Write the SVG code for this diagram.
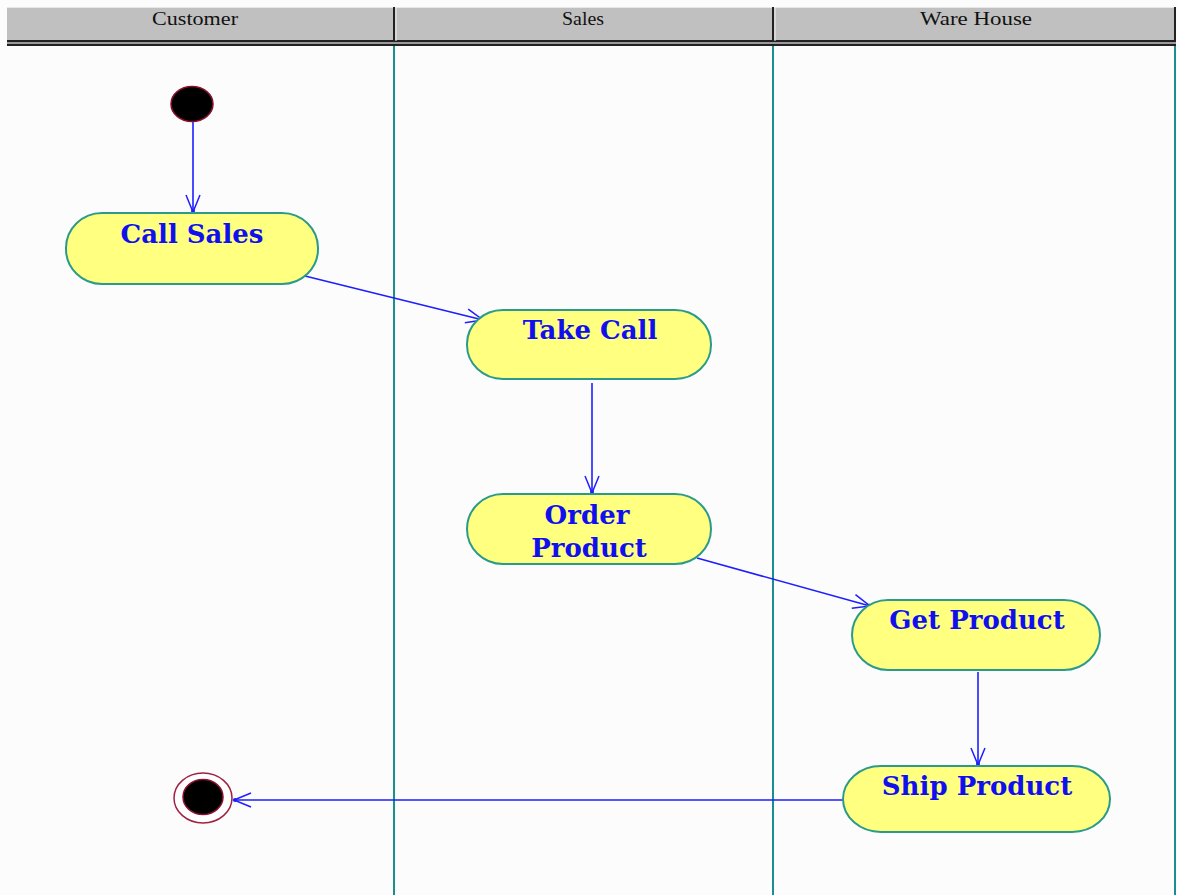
<svg xmlns="http://www.w3.org/2000/svg" width="1177" height="895" viewBox="0 0 1177 895">
  <style>
    .hdr { fill: #c0c0c0; }
    .hdr-text { font-family: "Liberation Serif", "DejaVu Serif", serif; font-size: 18px; fill: #111; text-anchor: middle; }
    .lane { stroke: #1a8f8f; stroke-width: 2; fill: none; }
    .act { fill: #ffff80; stroke: #2a9a8a; stroke-width: 2; }
    .label { font-family: "DejaVu Serif", "Liberation Serif", serif; font-weight: bold; font-size: 26px; fill: #1010ee; text-anchor: middle; }
    .flow { stroke: #1e1eff; stroke-width: 1.6; fill: none; marker-end: url(#open); }
  </style>
  <defs>
    <marker id="open" viewBox="-20 -10 22 20" refX="0" refY="0" markerWidth="22" markerHeight="20" markerUnits="userSpaceOnUse" orient="auto">
      <path d="M -17 -7 L 0 0 L -17 7" fill="none" stroke="#1e1eff" stroke-width="1.5"/>
      <circle cx="-1" cy="0" r="2" fill="#1e1eff"/>
    </marker>
  </defs>

  <rect x="0" y="0" width="1177" height="895" fill="#fcfcfc"/>

  <!-- swimlane header bar -->
  <g id="header">
    <rect class="hdr" x="7" y="7" width="1169" height="34"/>
    <line x1="7" y1="7.5" x2="1176" y2="7.5" stroke="#e8e8e8" stroke-width="1"/>
    <line x1="7" y1="41" x2="1176" y2="41" stroke="#222" stroke-width="2"/>
    <line x1="7" y1="43" x2="1176" y2="43" stroke="#9a9a9a" stroke-width="2"/>
    <line x1="7" y1="45" x2="1176" y2="45" stroke="#222" stroke-width="2"/>
    <line x1="394" y1="7" x2="394" y2="41" stroke="#222" stroke-width="2"/>
    <line x1="396" y1="7" x2="396" y2="41" stroke="#eeeeee" stroke-width="1"/>
    <line x1="773" y1="7" x2="773" y2="41" stroke="#222" stroke-width="2"/>
    <line x1="775" y1="7" x2="775" y2="41" stroke="#eeeeee" stroke-width="1"/>
    <line x1="1175" y1="7" x2="1175" y2="41" stroke="#222" stroke-width="2"/>
    <text class="hdr-text" x="195" y="25" textLength="86" lengthAdjust="spacingAndGlyphs">Customer</text>
    <text class="hdr-text" x="583" y="25" textLength="42" lengthAdjust="spacingAndGlyphs">Sales</text>
    <text class="hdr-text" x="976" y="25" textLength="112" lengthAdjust="spacingAndGlyphs">Ware House</text>
  </g>

  <!-- lane dividers -->
  <g id="lanes">
    <line class="lane" x1="394" y1="46" x2="394" y2="895"/>
    <line class="lane" x1="773" y1="46" x2="773" y2="895"/>
    <line class="lane" x1="1175" y1="46" x2="1175" y2="895"/>
  </g>

  <!-- control flows -->
  <g id="connectors">
    <line class="flow" x1="193" y1="122" x2="193" y2="212"/>
    <line class="flow" x1="305" y1="276" x2="483" y2="320"/>
    <line class="flow" x1="592" y1="383" x2="592" y2="493"/>
    <line class="flow" x1="697" y1="558" x2="870" y2="606"/>
    <line class="flow" x1="978" y1="672" x2="978" y2="765"/>
    <line class="flow" x1="843" y1="800" x2="234" y2="800"/>
  </g>

  <g id="start">
    <ellipse cx="192" cy="104" rx="21" ry="17.5" fill="#000" stroke="#8a1030" stroke-width="1.5"/>
  </g>

  <g id="call-sales">
    <rect class="act" x="66" y="213" width="252" height="71" rx="36" ry="35"/>
    <text class="label" x="192" y="243">Call Sales</text>
  </g>

  <g id="take-call">
    <rect class="act" x="467" y="310" width="244" height="69" rx="36" ry="34"/>
    <text class="label" x="590" y="339">Take Call</text>
  </g>

  <g id="order-product">
    <rect class="act" x="467" y="494" width="244" height="70" rx="36" ry="35"/>
    <text class="label" x="587" y="524">Order</text>
    <text class="label" x="589" y="557">Product</text>
  </g>

  <g id="get-product">
    <rect class="act" x="852" y="600" width="248" height="70" rx="36" ry="35"/>
    <text class="label" x="977" y="629">Get Product</text>
  </g>

  <g id="ship-product">
    <rect class="act" x="843" y="766" width="267" height="66" rx="38" ry="33"/>
    <text class="label" x="977" y="795">Ship Product</text>
  </g>

  <g id="end">
    <ellipse cx="203" cy="798" rx="29" ry="25" fill="#fff" stroke="#a02040" stroke-width="1.5"/>
    <ellipse cx="203" cy="797" rx="20" ry="17.5" fill="#000" stroke="#8a1030" stroke-width="1.5"/>
  </g>
</svg>
